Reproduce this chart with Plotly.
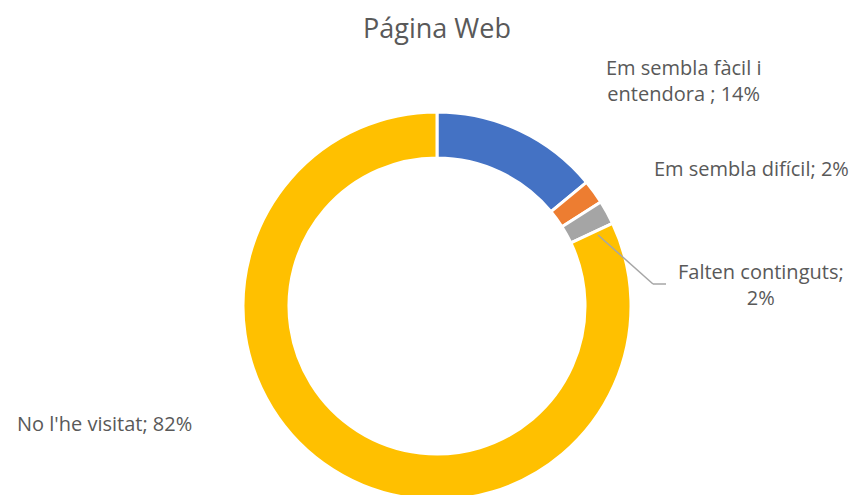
import plotly.graph_objects as go

W, H = 858, 495
OFF = 8  # page body margin offset

categories = ["Em sembla fàcil i entendora ", "Em sembla difícil", "Falten continguts", "No l'he visitat"]
values = [14, 2, 2, 82]
colors = ["#4472C4", "#ED7D31", "#A5A5A5", "#FFC000"]
label_texts = [
    "Em sembla fàcil i<br>entendora ; 14%",
    "Em sembla difícil; 2%",
    "Falten continguts;<br>2%",
    "No l'he visitat; 82%",
]
title_text = "Página Web"

FONT = "Open Sans, Noto Sans, sans-serif"
TXT = "#595959"

def px(x):
    return (x - OFF) / W

def py(y):
    return 1 - (y - OFF) / H

cx, top, bottom = 437, 112, 500
r = (bottom - top) / 2

fig = go.Figure(go.Pie(
    labels=categories,
    values=values,
    sort=False,
    direction="clockwise",
    rotation=0,
    hole=0.763,
    marker=dict(colors=colors, line=dict(color="white", width=3)),
    textinfo="none",
    hoverinfo="label+percent",
    domain=dict(x=[px(cx - r), px(cx + r)], y=[py(bottom), py(top)]),
))

label_pos = [(683, 80), (751, 168), (761, 284), (104, 423)]
annotations = []
for t, (x, y) in zip(label_texts, label_pos):
    annotations.append(dict(
        text=t, x=px(x), y=py(y), xref="paper", yref="paper",
        showarrow=False, xanchor="center", yanchor="middle", align="center",
        font=dict(family=FONT, size=20, color=TXT),
    ))
annotations.append(dict(
    text=title_text, x=px(437), y=py(27), xref="paper", yref="paper",
    showarrow=False, xanchor="center", yanchor="middle",
    font=dict(family=FONT, size=27, color=TXT),
))

shapes = [
    dict(type="line", xref="paper", yref="paper", x0=px(598), y0=py(235), x1=px(653), y1=py(284),
         line=dict(color="#A6A6A6", width=1.5)),
    dict(type="line", xref="paper", yref="paper", x0=px(653), y0=py(284), x1=px(666), y1=py(284),
         line=dict(color="#A6A6A6", width=1.5)),
]

fig.update_layout(
    width=W, height=H,
    margin=dict(l=0, r=0, t=0, b=0),
    showlegend=False,
    paper_bgcolor="white",
    plot_bgcolor="white",
    annotations=annotations,
    shapes=shapes,
)

fig.write_html("out.html")
